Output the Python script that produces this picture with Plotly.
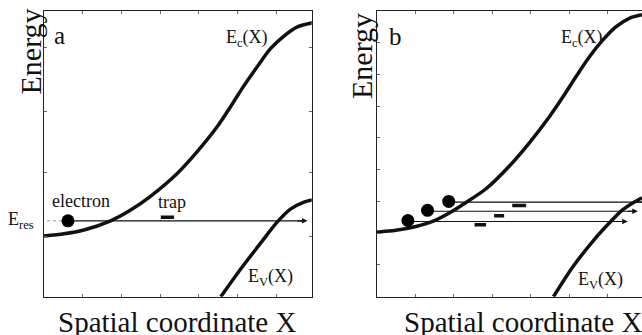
import plotly.graph_objects as go

# ---------------- data (axis units: x 0..~7, y 0..9) ----------------
# Panel a
a_ec_x = [0, 0.52, 1.03, 1.72, 2.24, 2.76, 3.45, 3.96, 4.48, 4.83, 5.17, 5.52, 5.86, 6.21, 6.55, 6.94]
a_ec_y = [1.91, 1.98, 2.10, 2.39, 2.73, 3.17, 3.89, 4.57, 5.36, 6.00, 6.65, 7.26, 7.82, 8.22, 8.50, 8.63]
a_ev_x = [4.57, 5.07, 5.62, 6.02, 6.37, 6.72, 6.93]
a_ev_y = [0.0, 0.85, 1.72, 2.34, 2.76, 2.98, 3.05]
a_eres = 2.39
a_electron_x = [0.62]
a_electron_y = [2.39]
a_trap_x = [3.02, 3.36]
a_trap_y = [2.50, 2.50]
a_arrow_end = 6.81
a_dotted_x = [0.08, 0.48]

# Panel b
b_ec_x = [0, 0.50, 1.02, 1.45, 1.93, 2.32, 2.84, 3.44, 3.96, 4.48, 4.83, 5.17, 5.52, 5.87, 6.21, 6.56, 6.89]
b_ec_y = [2.03, 2.09, 2.21, 2.37, 2.67, 2.97, 3.40, 4.11, 4.84, 5.66, 6.28, 6.92, 7.55, 8.08, 8.50, 8.77, 8.88]
b_ev_x = [4.59, 5.10, 5.65, 6.04, 6.39, 6.73, 6.89]
b_ev_y = [0.0, 0.95, 1.80, 2.32, 2.74, 3.01, 3.12]
b_electron_x = [0.81, 1.32, 1.87]
b_electron_y = [2.40, 2.72, 3.00]
b_line_y = [2.37, 2.69, 2.98]
b_line_end = [6.52, 6.78, 7.05]
b_trap_x0 = [2.54, 3.05, 3.52]
b_trap_x1 = [2.84, 3.31, 3.88]
b_trap_y = [2.27, 2.55, 2.87]

a_yticks = [1.91, 3.90, 5.82, 7.84]
b_yticks = [1, 2, 3, 4, 5, 6, 7, 8]
x_ticks = [1, 2, 3, 4, 5, 6]

W, H = 642, 335
FONT = "Liberation Serif, Times New Roman, serif"
INK = "#111111"

fig = go.Figure()

# curves panel a
fig.add_trace(go.Scatter(x=a_ec_x, y=a_ec_y, mode="lines", line=dict(color=INK, width=3.5, shape="spline", smoothing=0.8),
                         xaxis="x", yaxis="y", hoverinfo="skip"))
fig.add_trace(go.Scatter(x=a_ev_x, y=a_ev_y, mode="lines", line=dict(color=INK, width=3.5, shape="spline", smoothing=0.8),
                         xaxis="x", yaxis="y", hoverinfo="skip"))
fig.add_trace(go.Scatter(x=a_dotted_x, y=[a_eres, a_eres], mode="lines", line=dict(color="#999999", width=1, dash="dot"),
                         xaxis="x", yaxis="y", hoverinfo="skip"))
fig.add_trace(go.Scatter(x=[a_electron_x[0], a_arrow_end - 0.05], y=[a_eres, a_eres], mode="lines",
                         line=dict(color=INK, width=1.1), xaxis="x", yaxis="y", hoverinfo="skip"))
fig.add_trace(go.Scatter(x=a_trap_x, y=a_trap_y, mode="lines", line=dict(color=INK, width=3.5),
                         xaxis="x", yaxis="y", hoverinfo="skip"))
fig.add_trace(go.Scatter(x=a_electron_x, y=a_electron_y, mode="markers", marker=dict(color="black", size=13),
                         xaxis="x", yaxis="y", hoverinfo="skip"))

# curves panel b
fig.add_trace(go.Scatter(x=b_ec_x, y=b_ec_y, mode="lines", line=dict(color=INK, width=3.5, shape="spline", smoothing=0.8),
                         xaxis="x2", yaxis="y2", hoverinfo="skip"))
fig.add_trace(go.Scatter(x=b_ev_x, y=b_ev_y, mode="lines", line=dict(color=INK, width=3.5, shape="spline", smoothing=0.8),
                         xaxis="x2", yaxis="y2", hoverinfo="skip"))
for i in range(3):
    fig.add_trace(go.Scatter(x=[b_electron_x[i], b_line_end[i] - 0.05], y=[b_line_y[i], b_line_y[i]], mode="lines",
                             line=dict(color=INK, width=1.1), xaxis="x2", yaxis="y2", hoverinfo="skip"))
    fig.add_trace(go.Scatter(x=[b_trap_x0[i], b_trap_x1[i]], y=[b_trap_y[i], b_trap_y[i]], mode="lines",
                             line=dict(color=INK, width=3.5), xaxis="x2", yaxis="y2", hoverinfo="skip"))
fig.add_trace(go.Scatter(x=b_electron_x, y=b_electron_y, mode="markers", marker=dict(color="black", size=13),
                         xaxis="x2", yaxis="y2", hoverinfo="skip"))

ann = []
# arrowheads
ann.append(dict(x=a_arrow_end, y=a_eres, ax=a_arrow_end - 0.3, ay=a_eres, xref="x", yref="y", axref="x", ayref="y",
                showarrow=True, arrowhead=2, arrowsize=1, arrowwidth=1.1, arrowcolor=INK, text=""))
for i in range(3):
    ann.append(dict(x=b_line_end[i], y=b_line_y[i], ax=b_line_end[i] - 0.3, ay=b_line_y[i], xref="x2", yref="y2",
                    axref="x2", ayref="y2", showarrow=True, arrowhead=2, arrowsize=1, arrowwidth=1.1,
                    arrowcolor=INK, text=""))

def txt(t, x, y, xr, yr, size, angle=0):
    return dict(text=t, x=x, y=y, xref=xr, yref=yr, showarrow=False, xanchor="center", yanchor="middle",
                textangle=angle, font=dict(family=FONT, size=size, color=INK))

ann += [
    txt("a", 0.41, 8.22, "x", "y", 25),
    txt("E<sub>c</sub>(X)", 5.26, 8.12, "x", "y", 18),
    txt("E<sub>V</sub>(X)", 5.86, 0.60, "x", "y", 18),
    txt("electron", 0.96, 3.0, "x", "y", 18),
    txt("trap", 3.32, 2.98, "x", "y", 18),
    txt("b", 0.50, 8.19, "x2", "y2", 25),
    txt("E<sub>c</sub>(X)", 5.33, 8.12, "x2", "y2", 18),
    txt("E<sub>V</sub>(X)", 5.80, 0.52, "x2", "y2", 18),
    txt("E<sub>res</sub>", 21 / W, 1 - 220 / H, "paper", "paper", 18),
    txt("Energy", 29.5 / W, 1 - 52 / H, "paper", "paper", 30, -90),
    txt("Energy", 362 / W, 1 - 56 / H, "paper", "paper", 30, -90),
    txt("Spatial coordinate X", 177 / W, 1 - 322 / H, "paper", "paper", 29),
    txt("Spatial coordinate X", 523 / W, 1 - 322 / H, "paper", "paper", 29),
]

axis_common = dict(showgrid=False, zeroline=False, showticklabels=False, ticks="inside", ticklen=3,
                   tickcolor="#666666", tickwidth=1, showline=True, linecolor="#222222", linewidth=1)

fig.update_layout(
    width=W, height=H, margin=dict(l=0, r=0, t=0, b=0),
    paper_bgcolor="white", plot_bgcolor="white", showlegend=False,
    xaxis=dict(domain=[44 / W, 311.7 / W], range=[0, 6.92], tickvals=x_ticks, mirror="allticks", anchor="y", **axis_common),
    yaxis=dict(domain=[1 - 296.7 / H, 1 - 11 / H], range=[0, 9.0], tickvals=a_yticks, mirror="allticks", anchor="x", **axis_common),
    xaxis2=dict(domain=[376.7 / W, 1.0], range=[0, 6.89], tickvals=x_ticks, mirror="allticks", anchor="y2", **axis_common),
    yaxis2=dict(domain=[1 - 296.7 / H, 1 - 11 / H], range=[0, 9.0], tickvals=b_yticks, mirror=False, anchor="x2", **axis_common),
    annotations=ann,
)

fig.write_html("out.html")
